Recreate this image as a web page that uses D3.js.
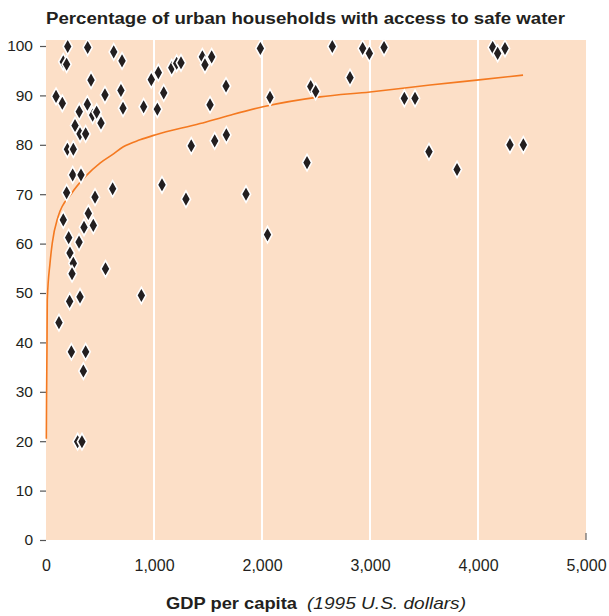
<!DOCTYPE html>
<html>
<head>
<meta charset="utf-8">
<script src="https://cdn.jsdelivr.net/npm/d3@7"></script>
<style>
  html, body { margin: 0; padding: 0; background: #ffffff; }
  svg { display: block; }
  text { font-family: "Liberation Sans", Arial, "DejaVu Sans", sans-serif; fill: #231f20; }
</style>
</head>
<body>
<svg id="chart" width="609" height="616"></svg>
<script>
// ---- data ----
const gdp = [201, 386, 160, 191, 627, 704, 417, 93, 151, 546, 694, 713, 308, 383, 432, 469, 509, 269, 315, 367,
  904, 975, 1040, 1031, 1090, 1164, 1210, 1250, 1448, 1472, 1534, 1667, 1519, 1985, 2074, 2451, 2497, 1345, 1562, 1670,
  198, 253, 247, 324, 191, 617, 1074, 454, 392, 160, 352, 438, 210, 306, 222, 253, 241, 551, 219, 315,
  883, 120, 235, 367, 346, 293, 333, 1296, 1852, 2417, 2051, 2651, 2932, 2994, 3130, 2815, 3318, 3417, 3546, 3806,
  4136, 4182, 4250, 4296, 4420];
const water = [99.9, 99.7, 96.8, 96.3, 98.8, 97.0, 93.1, 89.8, 88.4, 90.1, 91.0, 87.4, 86.7, 88.2, 86.0, 86.6, 84.4, 83.9, 82.2, 82.2,
  87.7, 93.2, 94.6, 87.2, 90.5, 95.6, 96.5, 96.6, 97.8, 96.2, 97.8, 91.9, 88.1, 99.5, 89.6, 91.8, 90.8, 79.8, 80.8, 82.0,
  79.1, 79.1, 73.9, 73.9, 70.3, 71.1, 71.9, 69.4, 66.1, 64.8, 63.3, 63.7, 61.2, 60.3, 58.1, 56.0, 53.9, 54.9, 48.3, 49.2,
  49.5, 44.0, 38.1, 38.1, 34.2, 19.9, 19.9, 69.0, 70.0, 76.4, 61.8, 99.9, 99.5, 98.5, 99.7, 93.6, 89.4, 89.4, 78.6, 75.0,
  99.7, 98.5, 99.5, 80.0, 80.0];

// fitted trend line, read point by point
const curveGdp = [3, 5, 9, 12, 37, 58, 111, 238, 361, 500, 608, 716, 870, 1009, 1426, 1704, 2009, 2537, 3000, 3556, 3988, 4417];
const curveVal = [20.5, 28.3, 38.5, 48.6, 56.0, 60.1, 65.4, 70.2, 73.5, 76.3, 77.9, 79.6, 81.0, 82.0, 84.3, 86.0, 87.7, 89.7, 90.7, 92.1, 93.1, 94.1];

const xTicks = [0, 1000, 2000, 3000, 4000, 5000];
const yTicks = [0, 10, 20, 30, 40, 50, 60, 70, 80, 90, 100];
const titleText = "Percentage of urban households with access to safe water";
const xTitleBold = "GDP per capita";
const xTitleItalic = "(1995 U.S. dollars)";

// ---- layout ----
const svg = d3.select("#chart");
const pLeft = 46, pRight = 586, pTop = 40, pBottom = 540;
const x = d3.scaleLinear().domain([0, 5000]).range([pLeft, pRight]);
const y = d3.scaleLinear().domain([0, 100]).range([pBottom, 46]);

// background
svg.append("rect").attr("x", pLeft).attr("y", pTop).attr("width", pRight - pLeft).attr("height", pBottom - pTop)
  .attr("fill", "#fcdfc7");

// white gridlines
svg.append("g").selectAll("line").data(xTicks.filter(d => d > 0 && d < 5000)).join("line")
  .attr("x1", d => x(d)).attr("x2", d => x(d)).attr("y1", pTop).attr("y2", pBottom)
  .attr("stroke", "#ffffff").attr("stroke-width", 2);

// inward tick at the end of x axis
svg.append("line").attr("x1", x(5000)).attr("x2", x(5000)).attr("y1", pBottom - 7).attr("y2", pBottom)
  .attr("stroke", "#666").attr("stroke-width", 1.2);

// y axis
const yAxis = d3.axisLeft(y).tickValues(yTicks).tickSize(6).tickPadding(7);
const gy = svg.append("g").attr("transform", `translate(${pLeft},0)`).call(yAxis);
gy.select(".domain").remove();
gy.selectAll(".tick line").attr("stroke", "#555").attr("stroke-width", 1.2);
gy.selectAll(".tick text").attr("font-size", 15.5).attr("fill", "#231f20")
  .style("font-family", '"Liberation Sans", Arial, sans-serif');

// x axis
const xAxis = d3.axisBottom(x).tickValues(xTicks).tickSize(0).tickPadding(20).tickFormat(d3.format(","));
const gx = svg.append("g").attr("transform", `translate(0,${pBottom})`).call(xAxis);
gx.select(".domain").remove();
gx.selectAll(".tick text").attr("font-size", 16).attr("fill", "#231f20")
  .style("font-family", '"Liberation Sans", Arial, sans-serif');

// trend curve
const pts = curveGdp.map((g, i) => [g, curveVal[i]]);
svg.append("path").datum(pts)
  .attr("d", d3.line().x(d => x(d[0])).y(d => y(d[1])).curve(d3.curveMonotoneX))
  .attr("fill", "none").attr("stroke", "#f47920").attr("stroke-width", 1.6);

// diamonds
const hw = 4.6, hh = 8.2;
const diamond = `M0,${-hh}L${hw},0L0,${hh}L${-hw},0Z`;
svg.append("g").selectAll("path").data(gdp.map((g, i) => [g, water[i]])).join("path")
  .attr("d", diamond)
  .attr("transform", d => `translate(${x(d[0])},${y(d[1])})`)
  .attr("fill", "#231f20").attr("stroke", "#ffffff").attr("stroke-width", 1.6)
  .attr("stroke-linejoin", "miter");

// title
svg.append("text").attr("x", pLeft).attr("y", 24).attr("font-size", 16).attr("font-weight", "bold")
  .attr("textLength", 519).attr("lengthAdjust", "spacingAndGlyphs")
  .text(titleText);

// x axis title (bold part + italic part, centred under the plot)
const cx = (pLeft + pRight) / 2;
const boldW = 131, gapW = 10, italW = 159;
const startX = cx - (boldW + gapW + italW) / 2;
svg.append("text").attr("x", startX).attr("y", 609).attr("font-size", 17).attr("font-weight", "bold")
  .attr("textLength", boldW).attr("lengthAdjust", "spacingAndGlyphs").text(xTitleBold);
svg.append("text").attr("x", startX + boldW + gapW).attr("y", 609).attr("font-size", 17).attr("font-style", "italic")
  .attr("textLength", italW).attr("lengthAdjust", "spacingAndGlyphs").attr("fill", "#333").text(xTitleItalic);
</script>
</body>
</html>
